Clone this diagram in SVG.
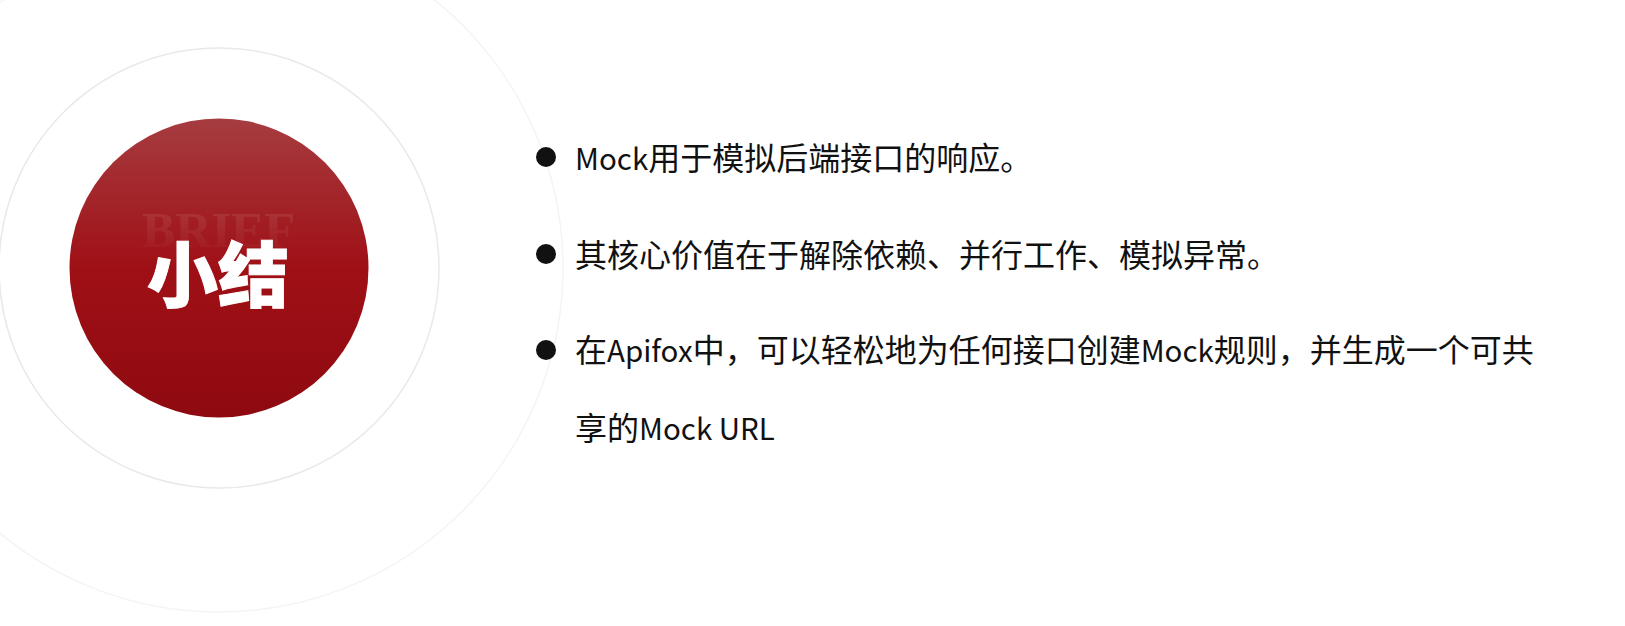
<svg xmlns="http://www.w3.org/2000/svg" width="1625" height="626" viewBox="0 0 1625 626">
<style>
.t{font-family:"Noto Sans CJK SC","Liberation Sans",sans-serif;font-size:32px;fill:#111}
.t tspan{font-size:29.500px}
.b{fill:#111}
</style>
<defs>
<linearGradient id="red" x1="0" y1="0" x2="0" y2="1"><stop offset="0" stop-color="#a63c40"/><stop offset=".5" stop-color="#9f1016"/><stop offset="1" stop-color="#8e0a10"/></linearGradient>
<linearGradient id="fade" x1="0" y1="0" x2="0" y2="1"><stop offset="0.150" stop-color="#fff" stop-opacity=".09"/><stop offset="1" stop-color="#fff" stop-opacity=".01"/></linearGradient>
</defs>
<rect width="1625" height="626" fill="#fff"/>
<g id="rings" fill="none">
<circle cx="219" cy="268" r="344" stroke="#f6f3f3" stroke-width="1.500"/>
<circle cx="219" cy="268" r="220" stroke="#ece7e8" stroke-width="1.500"/>
</g>
<g id="badge">
<circle cx="219" cy="268" r="149.500" fill="url(#red)"/>
<text x="218.500" y="247" text-anchor="middle" font-family="Liberation Serif,serif" font-weight="700" font-size="51" fill="url(#fade)" textLength="153" lengthAdjust="spacingAndGlyphs">BRIEF</text>
<text x="218" y="301" text-anchor="middle" font-family="Noto Sans CJK SC,sans-serif" font-weight="900" font-size="71" fill="#fff" stroke="#fff" stroke-width="1">小结</text>
</g>
<g id="item1"><circle class="b" cx="546" cy="157" r="10"/><text class="t" x="575" y="170"><tspan>Mock</tspan>用于模拟后端接口的响应。</text></g>
<g id="item2"><circle class="b" cx="546" cy="254" r="10"/><text class="t" x="575" y="267">其核心价值在于解除依赖、并行工作、模拟异常。</text></g>
<g id="item3"><circle class="b" cx="546" cy="350" r="10"/><text class="t" x="575" y="362">在<tspan>Apifox</tspan>中，可以轻松地为任何接口创建<tspan>Mock</tspan>规则，并生成一个可共</text><text class="t" x="575" y="440">享的<tspan>Mock URL</tspan></text></g>
</svg>
